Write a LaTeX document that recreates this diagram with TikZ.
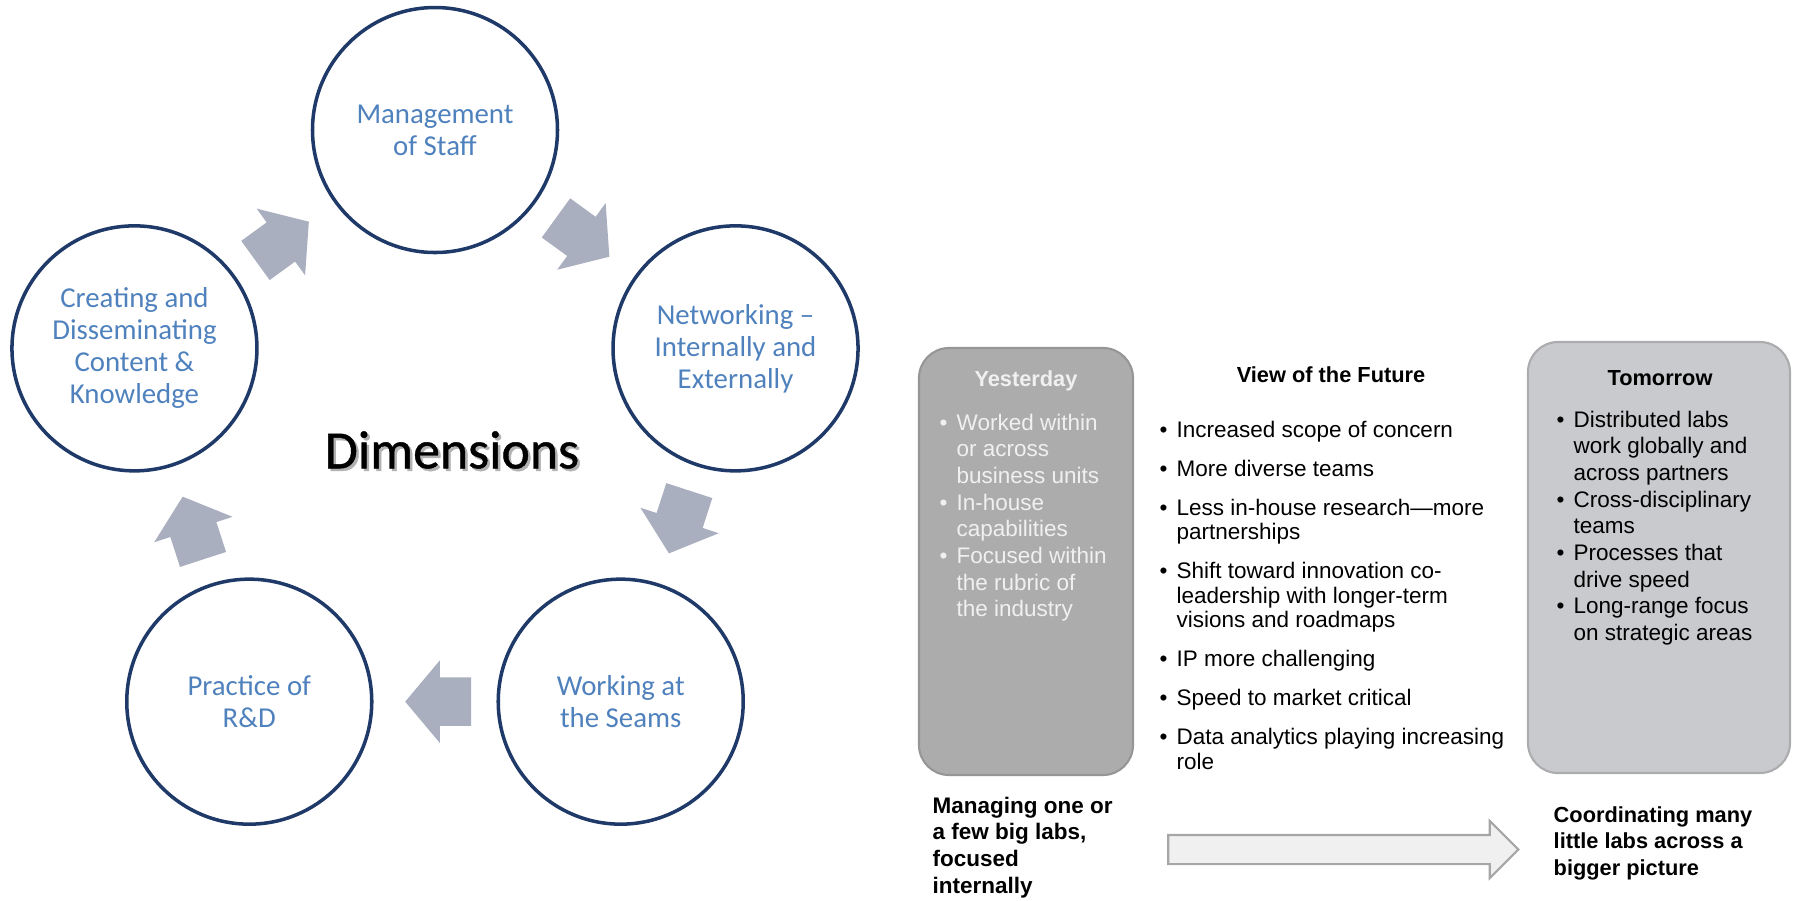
\documentclass[tikz,border=0pt]{standalone}
\usepackage{fontspec}
\setmainfont{Liberation Sans}
\newfontfamily\carlito{Carlito}
\newfontfamily\carlitoheavy[FakeBold=0.8]{Carlito}
\usetikzlibrary{shapes.arrows}

\definecolor{ringblue}{RGB}{31,58,104}
\definecolor{labelblue}{RGB}{79,129,189}
\definecolor{cyclegray}{RGB}{169,175,191}
\definecolor{pastfill}{RGB}{172,172,172}
\definecolor{pastline}{RGB}{150,150,150}
\definecolor{nextfill}{RGB}{201,202,205}
\definecolor{nextline}{RGB}{172,172,174}
\definecolor{shaftfill}{RGB}{240,240,240}
\definecolor{shaftline}{RGB}{166,166,166}

\newcommand\bul{\makebox[1.7mm][l]{\textbullet}}
\newcommand\ind{\hspace*{1.7mm}}

\tikzset{
  dim/.style={circle,draw=ringblue,line width=1pt,minimum size=24.5mm,inner sep=0pt,
    align=center,text=labelblue,font=\carlito\fontsize{8.2}{9.1}\selectfont},
  cyc/.style={single arrow,fill=cyclegray,sloped,allow upside down,anchor=tail,pos=0.2,
    inner xsep=0pt,inner ysep=2.35mm,minimum height=6.6mm,single arrow head extend=1.7mm,
    single arrow tip angle=100},
  era/.style={rounded corners=3mm,line width=0.6pt,inner sep=0pt},
  hd/.style={anchor=base,font=\bfseries\fontsize{6.2}{7}\selectfont},
  lst/.style={anchor=base west,inner sep=0pt,font=\fontsize{6.4}{7.6}\selectfont},
}

\begin{document}
\begin{tikzpicture}[x=1mm,y=1mm]
\useasboundingbox (0,0) rectangle (179.5,-90);
% the five dimensions round the cycle
\begin{scope}[shift={(43.5,-44.6)}]
\node[dim] (man) at (90:31.6) {Management\\of Staff};
\node[dim] (net) at (18:31.6) {Networking –\\Internally and\\Externally};
\node[dim] (sea) at (-54:31.6) {Working at\\the Seams};
\node[dim] (rnd) at (-126:31.6) {Practice of\\R\&D};
\node[dim] (cre) at (162:31.6) {Creating and\\Disseminating\\Content \&\\Knowledge};
\node[font=\carlitoheavy\fontsize{15.3}{18}\selectfont,text=black!30] (dimsh) at (1.95,-0.65) {Dimensions};
\node[font=\carlitoheavy\fontsize{15.3}{18}\selectfont] (dimtxt) at (1.7,-0.4) {Dimensions};
\end{scope}
\path (cre) -- node[cyc] (c1) {} (man);
\path (man) -- node[cyc] (c2) {} (net);
\path (net) -- node[cyc] (c3) {} (sea);
\path (sea) -- node[cyc] (c4) {} (rnd);
\path (rnd) -- node[cyc] (c5) {} (cre);
% yesterday / future / tomorrow
\node[era,fill=pastfill,draw=pastline,minimum width=21.4mm,minimum height=42.7mm] (past) at (102.6,-56.15) {};
\node[hd,text=white!94!black] (pasthd) at (102.6,-38.6) {Yesterday};
\node[lst,text=white!94!black] (pastlst) at (93.9,-43.0) {\parbox[t]{19mm}{\raggedright
  \bul Worked within\\\ind or across\\\ind business units\\
  \bul In-house\\\ind capabilities\\
  \bul Focused within\\\ind the rubric of\\\ind the industry}};
\node[hd] (viewhd) at (133.1,-38.2) {View of the Future};
\node[lst,font=\fontsize{6.4}{7}\selectfont] (viewlst) at (115.9,-43.7) {\parbox[t]{46mm}{\raggedright
  \bul Increased scope of concern\\[4.1pt]
  \bul More diverse teams\\[4.1pt]
  \bul Less in-house research---more\\\ind partnerships\\[4.1pt]
  \bul Shift toward innovation co-\\\ind leadership with longer-term\\\ind visions and roadmaps\\[4.1pt]
  \bul IP more challenging\\[4.1pt]
  \bul Speed to market critical\\[4.1pt]
  \bul Data analytics playing increasing\\\ind role}};
\node[era,fill=nextfill,draw=nextline,minimum width=26.2mm,minimum height=43.1mm] (next) at (165.9,-55.75) {};
\node[hd] (nexthd) at (166.0,-38.5) {Tomorrow};
\node[lst] (nextlst) at (155.6,-42.7) {\parbox[t]{23mm}{\raggedright
  \bul Distributed labs\\\ind work globally and\\\ind across partners\\
  \bul Cross-disciplinary\\\ind teams\\
  \bul Processes that\\\ind drive speed\\
  \bul Long-range focus\\\ind on strategic areas}};
% from few big labs to many little ones
\node[lst,font=\bfseries\fontsize{6.4}{7.6}\selectfont] (few) at (93.2,-81.3) {\parbox[t]{22mm}{\raggedright
  Managing one or\\a few big labs,\\focused\\internally}};
\node[lst,font=\bfseries\fontsize{6.2}{7.55}\selectfont] (many) at (155.3,-82.2) {\parbox[t]{25mm}{\raggedright
  Coordinating many\\little labs across a\\bigger picture}};
\node[single arrow,fill=shaftfill,draw=shaftline,line width=0.6pt,inner xsep=0pt,inner ysep=1.35mm,
  minimum height=35mm,single arrow head extend=1.4mm] (ahead) at (133.6,-84.95) {};
\end{tikzpicture}
\end{document}
